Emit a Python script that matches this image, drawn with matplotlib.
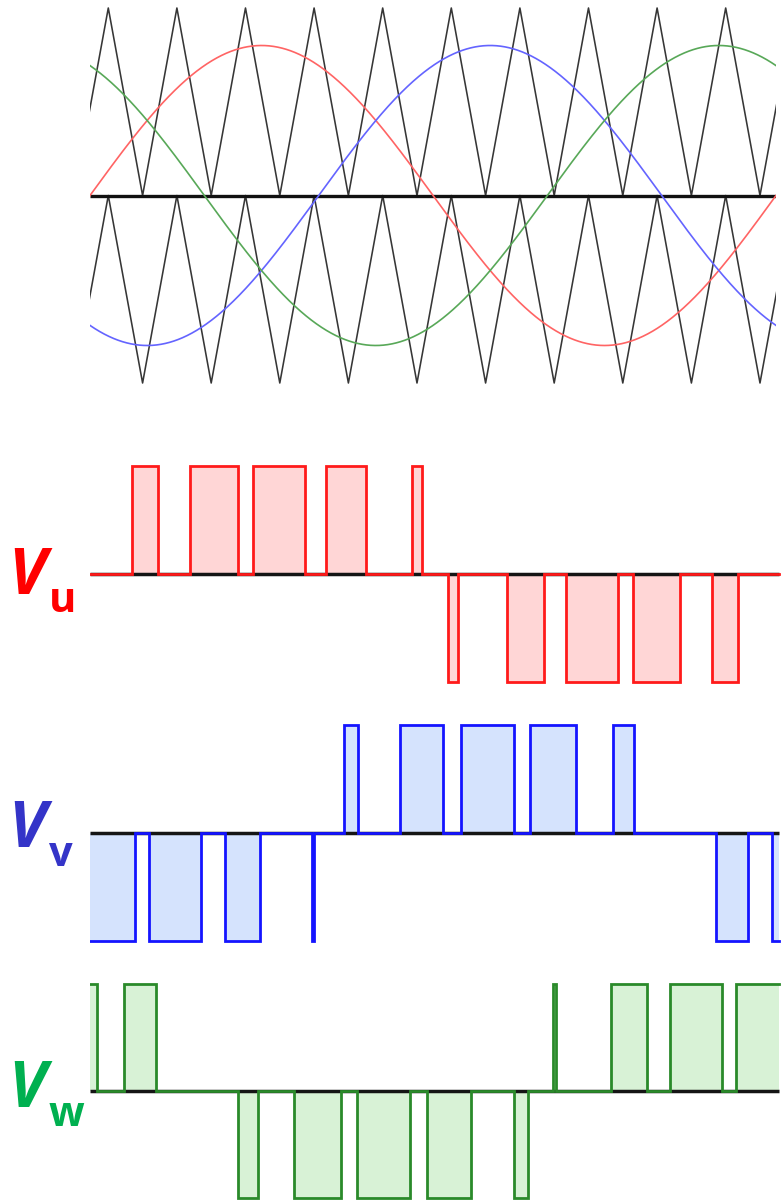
import numpy as np
import matplotlib
matplotlib.use("Agg")
import matplotlib.pyplot as plt

W, H = 781, 1200

# Three-phase sinusoidal references compared against a level-shifted triangle carrier
MOD_INDEX = 0.8
PHASES_DEG = [0.0, -120.0, -240.0]          # u, v, w
REF_COLORS = ["#ff6464", "#6464ff", "#58a858"]
CARRIER_PERIOD_DEG = 36.0
CARRIER_PEAK_DEG = 9.6

# Output phase voltages: pulses as (start_deg, end_deg, level)
vu_pulses = [
    (22.3, 35.9, 1), (52.5, 77.7, 1), (85.8, 112.8, 1), (123.9, 145.1, 1),
    (169.2, 174.4, 1),
    (188.1, 193.1, -1), (218.6, 238.0, -1), (249.8, 277.1, -1),
    (285.0, 309.7, -1), (326.4, 340.1, -1),
]
vv_pulses = [
    (0.0, 23.6, -1), (31.0, 58.5, -1), (70.8, 89.0, -1), (116.4, 117.8, -1),
    (133.3, 140.9, 1), (162.7, 185.3, 1), (194.7, 222.5, 1), (230.9, 255.0, 1),
    (274.7, 285.5, 1),
    (328.6, 345.1, -1), (358.0, 360.0, -1),
]
vw_pulses = [
    (0.0, 3.9, 1), (17.8, 34.4, 1),
    (77.9, 88.4, -1), (107.3, 131.7, -1), (139.9, 167.7, -1), (177.1, 199.7, -1),
    (222.3, 229.6, -1),
    (242.8, 244.8, 1), (273.4, 292.1, 1), (304.4, 331.4, 1), (339.0, 360.0, 1),
]

labels = ["u", "v", "w"]
label_colors = ["#ff0000", "#3434c8", "#00b050"]
edge_colors = ["#ff1a1a", "#1414ff", "#2a8a2a"]
fill_colors = ["#ffd6d6", "#d5e3fd", "#d8f2d6"]

X_LEFT_PX, X_RIGHT_PX = 90.0, 776.0          # 0 deg and 360 deg


def add_axes(fig, y_top_px, y_bot_px, xlim, ylim, yrange=(-1.0, 1.0)):
    """Axes whose yrange maps onto pixel rows y_top_px..y_bot_px."""
    y0, y1 = yrange
    sy = (y_bot_px - y_top_px) / (y1 - y0)
    bot_px = y_bot_px + (y0 - ylim[0]) * sy
    top_px = y_top_px - (ylim[1] - y1) * sy
    sx = (X_RIGHT_PX - X_LEFT_PX) / 360.0
    left_px = X_LEFT_PX + (xlim[0] - 0.0) * sx
    right_px = X_LEFT_PX + xlim[1] * sx
    ax = fig.add_axes([left_px / W, 1 - bot_px / H,
                       (right_px - left_px) / W, (bot_px - top_px) / H])
    ax.set_xlim(*xlim)
    ax.set_ylim(*ylim)
    ax.axis("off")
    return ax


def step_path(pulses, x_end):
    xs, ys = [], []
    if pulses[0][0] > 0:
        xs.append(0.0)
        ys.append(0.0)
    for s, e, lvl in pulses:
        if s > 0:
            xs += [s, s]
            ys += [0.0, lvl]
        else:
            xs.append(0.0)
            ys.append(lvl)
        if e < 360:
            xs += [e, e]
            ys += [lvl, 0.0]
        else:
            xs.append(x_end)
            ys.append(lvl)
    if ys[-1] == 0.0:
        xs.append(x_end)
        ys.append(0.0)
    return np.array(xs), np.array(ys)


fig = plt.figure(figsize=(W / 100, H / 100), dpi=100)

# ---- carrier and reference waveforms ----
ax0 = add_axes(fig, 8, 383, (0, 360), (-1.06, 1.06))
half = CARRIER_PERIOD_DEG / 2
vx = np.arange(CARRIER_PEAK_DEG - 2 * CARRIER_PERIOD_DEG,
               360 + 2 * CARRIER_PERIOD_DEG, half)
vy = np.where(np.isclose(((vx - CARRIER_PEAK_DEG) / half) % 2, 0), 1.0, 0.0)
ax0.plot(vx, vy, color="#363636", lw=1.15, zorder=2)
ax0.plot(vx, vy - 1.0, color="#363636", lw=1.15, zorder=2)
ax0.plot([0, 360], [0, 0], color="#111111", lw=2.4, zorder=3,
         solid_capstyle="butt")
theta = np.linspace(0, 360, 1441)
for ph, c in zip(PHASES_DEG, REF_COLORS):
    ax0.plot(theta, MOD_INDEX * np.sin(np.radians(theta + ph)),
             color=c, lw=1.2, zorder=4)

# ---- phase voltage panels ----
panel_px = [(466.5, 682.0), (725.0, 941.0), (984.0, 1198.0)]
x_end = 361.5
for pulses, (yt, yb), ec, fc in zip([vu_pulses, vv_pulses, vw_pulses],
                                    panel_px, edge_colors, fill_colors):
    ax = add_axes(fig, yt, yb, (0, 362.5), (-1.04, 1.04))
    xs, ys = step_path(pulses, x_end)
    ax.fill_between(xs, ys, 0, color=fc, lw=0, zorder=1)
    ax.plot([0, x_end], [0, 0], color="#151515", lw=2.5, zorder=2,
            solid_capstyle="butt")
    ax.plot(xs, ys, color=ec, lw=2.0, zorder=3, solid_joinstyle="miter")

# ---- labels ----
label_pos = [(594, 612), (847, 866), (1107, 1126)]
for lab, col, (vb, sb) in zip(labels, label_colors, label_pos):
    fig.text(8 / W, 1 - vb / H, "V", color=col, fontsize=46,
             fontweight="bold", fontstyle="italic",
             family=["Open Sans", "DejaVu Sans"], ha="left", va="baseline")
    fig.text(49 / W, 1 - sb / H, lab, color=col, fontsize=30,
             fontweight="bold", family=["Open Sans", "DejaVu Sans"],
             ha="left", va="baseline")

fig.savefig("out.png", dpi=100, facecolor="white")
